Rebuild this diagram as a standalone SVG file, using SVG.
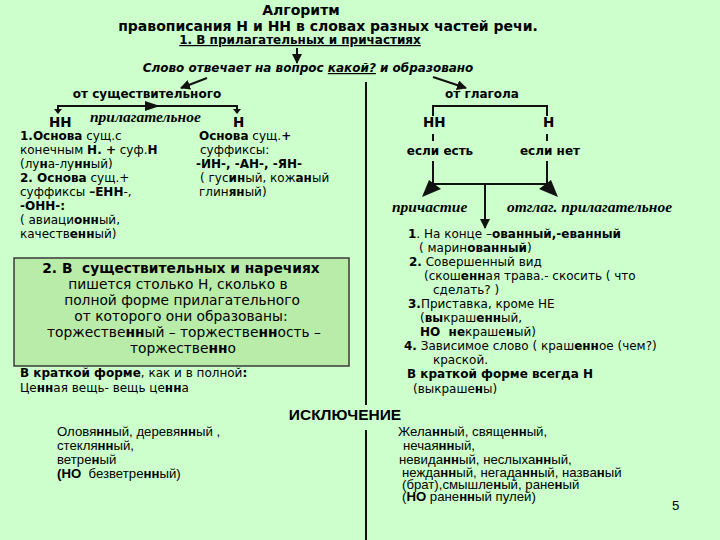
<svg xmlns="http://www.w3.org/2000/svg" width="720" height="540" viewBox="0 0 720 540">
<defs>
<style>
text{font-family:"DejaVu Sans",Verdana,sans-serif;fill:#000;}
.t{font-size:14px;font-weight:bold;}
.s{font-size:12px;font-weight:bold;}
.bi{font-size:12px;font-weight:bold;font-style:italic;}
.r{font-size:12px;}
.bx{font-size:13.8px;}
.lab{font-family:"Liberation Serif",serif;font-size:15.5px;font-weight:bold;font-style:italic;}
.hh{font-size:13.5px;font-weight:bold;}
.ex{font-family:"Liberation Sans",Arial,sans-serif;font-size:13.2px;}
.exh{font-family:"Liberation Sans",Arial,sans-serif;font-size:15.5px;font-weight:bold;}
.b{font-weight:bold;}
.ln{stroke:#111;stroke-width:2;fill:none;}
</style>
<marker id="ah" viewBox="0 0 10 10" refX="9" refY="5" markerWidth="5" markerHeight="5" orient="auto" markerUnits="strokeWidth"><path d="M0,0 L10,5 L0,10 z" fill="#111"/></marker>
</defs>
<rect width="720" height="540" fill="#CCFFCC"/>

<g id="title">
<text class="t" x="301" y="15" text-anchor="middle">Алгоритм</text>
<text class="t" x="328" y="31" text-anchor="middle">правописания Н  и НН в словах разных частей речи.</text>
<text class="s" x="300" y="44" text-anchor="middle" text-decoration="underline">1. В прилагательных и причастиях</text>
</g>

<g id="question">
<text class="bi" x="308" y="72" text-anchor="middle">Слово отвечает на вопрос <tspan text-decoration="underline">какой?</tspan> и образовано</text>
</g>

<g id="connectors">
<line class="ln" x1="297" y1="48" x2="297" y2="63" marker-end="url(#ah)"/>
<line class="ln" x1="207" y1="78" x2="181" y2="88" marker-end="url(#ah)"/>
<line class="ln" x1="433" y1="77" x2="466" y2="88" marker-end="url(#ah)"/>
<polyline class="ln" points="58,113 58,106 237,106 237,113"/>
<path d="M54,109 L62,109 L58,114 z" fill="#111"/>
<path d="M233,109 L241,109 L237,114 z" fill="#111"/>
<path d="M145,101 L160,106 L145,111 z" fill="#111"/>
<polyline class="ln" points="433,116 433,106 547,106 547,116"/>
<line class="ln" x1="433" y1="134" x2="433" y2="141"/>
<line class="ln" x1="547" y1="134" x2="547" y2="141"/>
<polyline class="ln" points="433,161 433,184 547,184 547,161"/>
<path d="M422,197 L429,180 L441,189 z" fill="#111"/>
<path d="M558,197 L539,189 L551,180 z" fill="#111"/>
<line class="ln" x1="485" y1="184" x2="485" y2="228" marker-end="url(#ah)"/>
<line class="ln" x1="366" y1="82" x2="366" y2="405"/>
<line class="ln" x1="366" y1="430" x2="366" y2="540"/>
</g>

<g id="from-noun">
<text class="s" x="147" y="98" text-anchor="middle">от существительного</text>
<text class="hh" x="49" y="127">НН</text>
<text class="lab" x="90" y="122">прилагательное</text>
<text class="hh" x="233" y="127">Н</text>
</g>

<g id="noun-nn">
<text class="r" x="20" y="140"><tspan class="b">1.Основа</tspan> сущ.с</text>
<text class="r" x="20" y="154">конечным <tspan class="b">Н. +</tspan> суф.<tspan class="b">Н</tspan></text>
<text class="r" x="20" y="168">(лу<tspan class="b">н</tspan>а-лу<tspan class="b">нн</tspan>ый)</text>
<text class="r" x="20" y="182"><tspan class="b">2. Основа</tspan> сущ.+</text>
<text class="r" x="20" y="196">суффиксы <tspan class="b">–ЕНН</tspan>-,</text>
<text class="r" x="20" y="210"><tspan class="b">-ОНН-:</tspan></text>
<text class="r" x="20" y="224">( авиаци<tspan class="b">онн</tspan>ый,</text>
<text class="r" x="20" y="238">качеств<tspan class="b">енн</tspan>ый)</text>
</g>

<g id="noun-n">
<text class="r" x="199" y="140"><tspan class="b">Основа</tspan> сущ.<tspan class="b">+</tspan></text>
<text class="r" x="200" y="154">суффиксы:</text>
<text class="r" x="196" y="168"><tspan class="b">-ИН-, -АН-, -ЯН-</tspan></text>
<text class="r" x="200" y="182">( гус<tspan class="b">ин</tspan>ый, кож<tspan class="b">ан</tspan>ый</text>
<text class="r" x="199" y="196">глин<tspan class="b">ян</tspan>ый)</text>
</g>

<g id="from-verb">
<text class="s" x="482" y="98" text-anchor="middle">от глагола</text>
<text class="hh" x="423" y="127">НН</text>
<text class="hh" x="543" y="127">Н</text>
<text class="s" x="440" y="155" text-anchor="middle">если есть</text>
<text class="s" x="550" y="155" text-anchor="middle">если нет</text>
<text class="lab" x="392" y="212">причастие</text>
<text class="lab" x="507" y="212">отглаг. прилагательное</text>
</g>

<g id="verb-rules">
<text class="r" x="408" y="238"><tspan class="b">1</tspan>. На конце –<tspan class="b">ованный,-еванный</tspan></text>
<text class="r" x="419" y="252">( марин<tspan class="b">ованный</tspan>)</text>
<text class="r" x="409" y="266"><tspan class="b">2.</tspan> Совершенный вид</text>
<text class="r" x="424" y="280">(скош<tspan class="b">енн</tspan>ая трава.- скосить ( что</text>
<text class="r" x="433" y="294">сделать? )</text>
<text class="r" x="408" y="308"><tspan class="b">3.</tspan>Приставка, кроме НЕ</text>
<text class="r" x="420" y="322">(<tspan class="b">вы</tspan>краш<tspan class="b">енн</tspan>ый,</text>
<text class="r" x="420" y="336" xml:space="preserve"><tspan class="b">НО  не</tspan>краше<tspan class="b">н</tspan>ый)</text>
<text class="r" x="404" y="350"><tspan class="b">4.</tspan> Зависимое слово ( краш<tspan class="b">енн</tspan>ое (чем?)</text>
<text class="r" x="433" y="364">краской.</text>
<text class="s" x="407" y="378">В краткой форме всегда Н</text>
<text class="r" x="413" y="393">(выкраше<tspan class="b">н</tspan>ы)</text>
</g>

<g id="nouns-adverbs">
<rect x="14" y="258" width="335" height="108" fill="#B9ECA9" stroke="#3a3a3a" stroke-width="1.5"/>
<text class="bx b" x="181" y="273" text-anchor="middle" xml:space="preserve">2. В  существительных и наречиях</text>
<text class="bx" x="178" y="289" text-anchor="middle">пишется столько Н, сколько в</text>
<text class="bx" x="182" y="305" text-anchor="middle">полной форме прилагательного</text>
<text class="bx" x="181" y="321" text-anchor="middle">от которого они образованы:</text>
<text class="bx" x="184" y="337" text-anchor="middle">торжестве<tspan class="b">нн</tspan>ый – торжестве<tspan class="b">нн</tspan>ость –</text>
<text class="bx" x="183" y="353" text-anchor="middle">торжестве<tspan class="b">нн</tspan>о</text>
</g>

<g id="short-form">
<text class="r" x="20" y="377"><tspan class="b">В краткой форме</tspan>, как и в полной<tspan class="b">:</tspan></text>
<text class="r" x="20" y="392">Це<tspan class="b">нн</tspan>ая вещь- вещь це<tspan class="b">нн</tspan>а</text>
</g>

<g id="exceptions">
<text class="exh" x="345" y="420" text-anchor="middle">ИСКЛЮЧЕНИЕ</text>
<text class="ex" x="57" y="436">Оловя<tspan class="b">нн</tspan>ый, деревя<tspan class="b">нн</tspan>ый ,</text>
<text class="ex" x="57" y="450">стекля<tspan class="b">нн</tspan>ый,</text>
<text class="ex" x="57" y="464">ветре<tspan class="b">н</tspan>ый</text>
<text class="ex" x="57" y="478" xml:space="preserve"><tspan class="b">(НО</tspan>  безветре<tspan class="b">нн</tspan>ый)</text>
<text class="ex" x="398" y="436">Жела<tspan class="b">нн</tspan>ый, свяще<tspan class="b">нн</tspan>ый,</text>
<text class="ex" x="403" y="450">нечая<tspan class="b">нн</tspan>ый,</text>
<text class="ex" x="399" y="464">невида<tspan class="b">нн</tspan>ый, неслыха<tspan class="b">нн</tspan>ый,</text>
<text class="ex" x="402" y="477">нежда<tspan class="b">нн</tspan>ый, негада<tspan class="b">нн</tspan>ый, назва<tspan class="b">н</tspan>ый</text>
<text class="ex" x="402" y="489">(брат),смышле<tspan class="b">н</tspan>ый, ране<tspan class="b">н</tspan>ый</text>
<text class="ex" x="402" y="501">(<tspan class="b">НО</tspan> ране<tspan class="b">нн</tspan>ый пулей)</text>
</g>

<g id="page-number">
<text class="ex" x="672" y="510" font-size="14">5</text>
</g>
</svg>
